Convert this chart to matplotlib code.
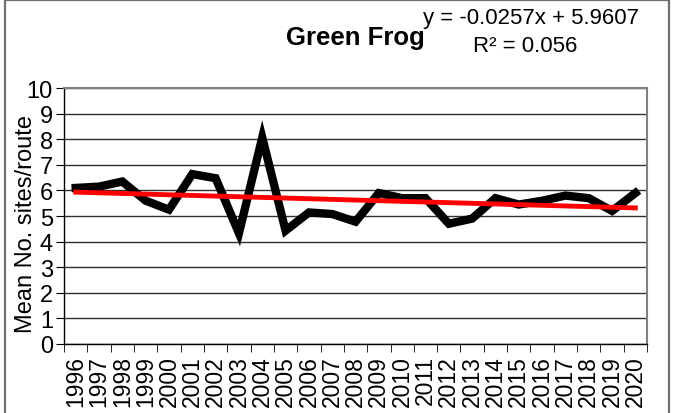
import matplotlib.pyplot as plt
import numpy as np
from matplotlib.patches import Rectangle

plt.rcParams["font.family"] = ["Liberation Sans", "DejaVu Sans"]

# data
years = ["1996", "1997", "1998", "1999", "2000", "2001", "2002", "2003", "2004",
         "2005", "2006", "2007", "2008", "2009", "2010", "2011", "2012", "2013",
         "2014", "2015", "2016", "2017", "2018", "2019", "2020"]
mean_sites = [6.10, 6.15, 6.35, 5.60, 5.25, 6.64, 6.48, 4.33, 8.07,
              4.43, 5.14, 5.08, 4.78, 5.90, 5.70, 5.70, 4.70, 4.90,
              5.70, 5.45, 5.60, 5.80, 5.70, 5.20, 5.90]
trend_slope = -0.0257
trend_intercept = 5.9607
r_squared = 0.056

fig = plt.figure(figsize=(6.74, 4.14), dpi=100)
ax = fig.add_axes([0.095, 0.1667, 0.865, 0.618])

# outer chart border
fig.patches.append(Rectangle((0.0067, -0.01), 0.9866, 1.008, transform=fig.transFigure,
                             fill=False, edgecolor="#6e6e6e", linewidth=1.6))

x = np.arange(len(years))
ax.plot(x, mean_sites, color="black", linewidth=6, solid_joinstyle="miter", zorder=3)

# linear trend (x counted 1..n as in the spreadsheet)
xt = x + 1
ax.plot(x, trend_slope * xt + trend_intercept, color="#ff0000", linewidth=3.5, zorder=4)

ax.set_xlim(-0.5, len(years) - 0.5)
ax.set_ylim(0, 10)
ax.set_yticks(range(0, 11))
ax.yaxis.grid(True, color="#303030", linewidth=1)
ax.set_axisbelow(True)

ax.set_xticks(x)
ax.set_xticklabels(years, rotation=90, fontsize=16.5)
ax.set_xticks(np.arange(-0.5, len(years)), minor=True)
ax.tick_params(axis="x", which="major", length=0, pad=8)
ax.tick_params(axis="x", which="minor", length=6, direction="out", color="black")
ax.tick_params(axis="y", labelsize=17, length=6, direction="out", pad=2)

for side in ["top", "right"]:
    ax.spines[side].set_color("#808080")
    ax.spines[side].set_linewidth(1.5)
for side in ["left", "bottom"]:
    ax.spines[side].set_color("black")
    ax.spines[side].set_linewidth(1)

fig.text(0.039, 0.46, "Mean No. sites/route", rotation=90, fontsize=17,
         ha="center", va="center")

fig.text(0.527, 0.908, "Green Frog", fontsize=18.5, fontweight="bold",
         ha="center", va="center")
fig.text(0.788, 0.955, f"y = {trend_slope}x + {trend_intercept}", fontsize=16,
         ha="center", va="center")
fig.text(0.779, 0.888, f"R² = {r_squared}", fontsize=16, ha="center", va="center")

plt.savefig("out.png", dpi=100)
plt.close()
